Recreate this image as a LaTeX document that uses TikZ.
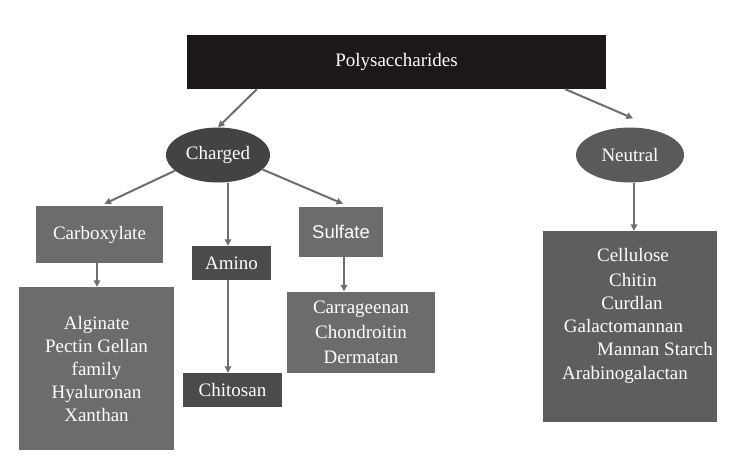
\documentclass[tikz,border=0pt]{standalone}
\usepackage{fontspec}
\setmainfont{Liberation Serif}
\newfontfamily\arialf{Liberation Sans}
\usetikzlibrary{arrows.meta,shapes.geometric,calc}
\definecolor{topc}{HTML}{1E1718}
\definecolor{chc}{HTML}{434343}
\definecolor{nec}{HTML}{5A5A5A}
\definecolor{lightbox}{HTML}{6C6C6C}
\definecolor{darkbox}{HTML}{4B4B4B}
\definecolor{cellc}{HTML}{5E5E5E}
\definecolor{arrc}{HTML}{6E6E6E}
\begin{document}
\begin{tikzpicture}[x=1pt,y=-1pt,
  every node/.style={font=\fontsize{19}{23}\selectfont, text=white},
  boxn/.style={rectangle, inner sep=0pt, draw=none},
  elln/.style={ellipse, inner sep=0pt, draw=none},
  linen/.style={inner sep=0pt, text height=12pt, text depth=4pt},
  arr/.style={draw=arrc, line width=2pt, -{Triangle[length=6.5pt,width=6.5pt]}}
]
\useasboundingbox (0,0) rectangle (732,459);
\fill[white] (0,0) rectangle (732,459);

\node[boxn, fill=topc, minimum width=419pt, minimum height=54pt] (top) at (396.5,62) {Polysaccharides};
\node[elln, fill=chc, minimum width=104pt, minimum height=55pt] (ch) at (218,155) {Charged};
\node[elln, fill=nec, minimum width=108pt, minimum height=55pt] (ne) at (630,155) {Neutral};

\node[boxn, fill=lightbox, minimum width=127pt, minimum height=57pt] (carb) at (99.5,234.5) {Carboxylate};
\node[boxn, fill=darkbox, minimum width=79pt, minimum height=34pt] (amino) at (231.5,263) {Amino};
\node[boxn, fill=lightbox, minimum width=84pt, minimum height=50pt] (sulf) at (341,232) {\arialf\fontsize{18.5}{23}\selectfont Sulfate};

\node[boxn, fill=lightbox, minimum width=155pt, minimum height=163pt, align=center] (alg) at (96.5,368.5) {Alginate\\Pectin Gellan\\family\\Hyaluronan\\Xanthan};
\node[boxn, fill=darkbox, minimum width=99pt, minimum height=34pt] (chit) at (232.5,390) {Chitosan};
\node[boxn, fill=lightbox, minimum width=148pt, minimum height=81pt, align=center,
  font=\fontsize{19}{25}\selectfont] (carr) at (361,332) {Carrageenan\\Chondroitin\\Dermatan};

\node[boxn, fill=cellc, minimum width=174pt, minimum height=191pt] (cell) at (630,326.5) {};
\node[linen] (l1) at (633,257) {Cellulose};
\node[linen] (l2) at (633,282) {Chitin};
\node[linen] (l3) at (632,305) {Curdlan};
\node[linen] (l4) at (623.5,328) {Galactomannan};
\node[linen] (l5) at (655,351.5) {Mannan Starch};
\node[linen] (l6) at (625,375) {Arabinogalactan};

\coordinate (xa) at (228,0);
\coordinate (xc) at (97,0);
\coordinate (xs) at (344,0);
\coordinate (xn) at (634,0);

\draw[arr] ($(top.south west)+(70,0)$) -- (ch.north);
\draw[arr] ($(top.south east)+(-41,0)$) -- ($(ne.north)+(3,-9)$);
\draw[arr] (ch.200) -- ($(carb.north)+(5,-2)$);
\draw[arr] (ch.south -| xa) -- (amino.north -| xa);
\draw[arr] (ch.-18) -- ($(sulf.north)+(2,-3)$);
\draw[arr] (carb.south -| xc) -- (alg.north -| xc);
\draw[arr] (amino.south -| xa) -- (chit.north -| xa);
\draw[arr] (sulf.south -| xs) -- (carr.north -| xs);
\draw[arr] (ne.south -| xn) -- (cell.north -| xn);
\end{tikzpicture}
\end{document}
